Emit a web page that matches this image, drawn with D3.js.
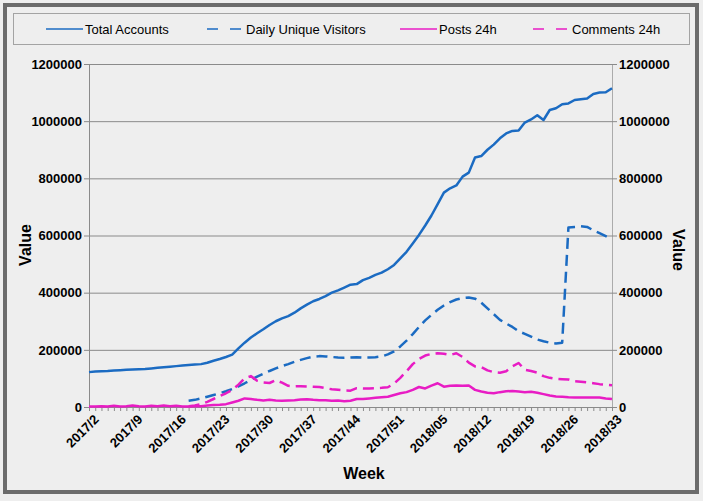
<!DOCTYPE html>
<html>
    <head>
        <meta charset="utf-8" />
        <title>Accounts, Visitors, Posts and Comments per Week</title>
        <script src="https://d3js.org/d3.v7.min.js"></script>
        <style>
            body { margin: 0; background: #eeeeee; }
            svg { display: block; font-family: "Liberation Sans", Arial, sans-serif; }
        </style>
    </head>

    <body>
        <svg width="703" height="501" id="chart"></svg>

        <script>

            // week labels on the x axis (one per data point)
            var weeks = [
                "2017/2","2017/3","2017/4","2017/5","2017/6","2017/7","2017/8","2017/9","2017/10","2017/11",
                "2017/12","2017/13","2017/14","2017/15","2017/16","2017/17","2017/18","2017/19","2017/20","2017/21",
                "2017/22","2017/23","2017/24","2017/25","2017/26","2017/27","2017/28","2017/29","2017/30","2017/31",
                "2017/32","2017/33","2017/34","2017/35","2017/36","2017/37","2017/38","2017/39","2017/40","2017/41",
                "2017/42","2017/43","2017/44","2017/45","2017/46","2017/47","2017/48","2017/49","2017/50","2017/51",
                "2017/52","2018/00","2018/01","2018/02","2018/03","2018/04","2018/05","2018/06","2018/07","2018/08",
                "2018/09","2018/10","2018/11","2018/12","2018/13","2018/14","2018/15","2018/16","2018/17","2018/18",
                "2018/19","2018/20","2018/21","2018/22","2018/23","2018/24","2018/25","2018/26","2018/27","2018/28",
                "2018/29","2018/30","2018/31","2018/32","2018/33"
            ];

            // only these weeks get a printed label
            var xTickLabels = ["2017/2","2017/9","2017/16","2017/23","2017/30","2017/37","2017/44",
                "2017/51","2018/05","2018/12","2018/19","2018/26","2018/33"];

            var yTicks = [0, 200000, 400000, 600000, 800000, 1000000, 1200000];

            var totalAccounts = [
                122000,124000,125000,126000,127500,129000,130000,131000,132000,133000,
                135000,137000,139000,141000,143000,145000,147000,149000,150000,155000,
                162000,168000,175000,183000,205000,225000,243000,258000,272000,287000,
                300000,310000,318000,330000,345000,358000,370000,378000,388000,400000,
                408000,418000,428000,430000,444000,452000,462000,470000,482000,497000,
                520000,543000,572000,602000,635000,670000,710000,750000,765000,775000,
                806000,820000,873000,878000,900000,918000,940000,957000,966000,967000,
                995000,1006000,1021000,1004000,1039000,1045000,1059000,1062000,1074000,1077000,
                1079000,1095000,1100000,1101000,1115000
            ];

            var dailyUniqueVisitors = [
                null,null,null,null,null,null,null,null,null,null,
                null,null,null,null,null,null,22000,25000,30000,36000,
                42000,48000,55000,63000,72000,83000,95000,106000,116000,126000,
                135000,143000,150000,158000,165000,171000,176000,178000,177000,175000,
                173000,172000,173000,174000,173000,173000,174000,177000,184000,195000,
                212000,232000,255000,280000,303000,322000,340000,355000,367000,376000,
                381000,383000,379000,365000,345000,325000,305000,292000,280000,265000,
                256000,246000,236000,230000,225000,222000,225000,628000,630000,632000,
                630000,618000,608000,598000,588000
            ];

            var posts24h = [
                2000,2000,3000,2000,4000,2000,3000,5000,3000,2000,
                4000,3000,5000,3000,4000,2000,2000,3000,3000,5000,
                7000,8000,10000,16000,22000,30000,28000,25000,23000,25000,
                23000,22000,23000,24000,26000,27000,25000,24000,24000,22000,
                23000,20000,22000,28000,28000,30000,32000,34000,36000,42000,
                48000,52000,60000,70000,65000,75000,83000,71000,74000,75000,
                74000,75000,60000,54000,50000,48000,52000,55000,56000,54000,
                52000,53000,50000,45000,40000,37000,36000,34000,33000,33000,
                33000,33000,33000,30000,28000
            ];

            var comments24h = [
                null,null,null,null,null,null,null,null,null,null,
                null,null,null,null,null,null,3000,5000,10000,18000,
                28000,38000,48000,60000,78000,100000,108000,92000,86000,84000,
                94000,85000,74000,72000,73000,72000,71000,70000,66000,62000,
                60000,58000,57000,66000,65000,65000,66000,67000,69000,82000,
                102000,125000,150000,168000,180000,186000,188000,186000,182000,188000,
                175000,155000,142000,140000,128000,122000,120000,125000,142000,154000,
                130000,126000,120000,108000,102000,98000,97000,96000,90000,88000,
                86000,83000,80000,78000,76000
            ];

            var blue = "#1b6bc2";
            var pink = "#e81cc4";

            var series = [
                { name: "Total Accounts", values: totalAccounts, color: blue, dash: null },
                { name: "Daily Unique Visitors", values: dailyUniqueVisitors, color: blue, dash: "11,6" },
                { name: "Posts 24h", values: posts24h, color: pink, dash: null },
                { name: "Comments 24h", values: comments24h, color: pink, dash: "11,6" }
            ];

            var svg = d3.select("#chart");

            // plot area edges
            var plotLeft = 89, plotRight = 612, plotTop = 64, plotBottom = 407;

            // outer frame
            svg.append("rect")
                .attr("x", 5).attr("y", 5)
                .attr("width", 692).attr("height", 487)
                .attr("fill", "#eeeeee")
                .attr("stroke", "#6b6b6b")
                .attr("stroke-width", 4);

            var x = d3.scalePoint().domain(weeks).range([plotLeft, plotRight]);
            var y = d3.scaleLinear().domain([0, 1200000]).range([plotBottom, plotTop]);

            // gridlines
            svg.append("g").selectAll("line")
                .data(yTicks.slice(1))
                .enter().append("line")
                .attr("x1", plotLeft).attr("x2", plotRight)
                .attr("y1", function(d) { return y(d) + 0.5; })
                .attr("y2", function(d) { return y(d) + 0.5; })
                .attr("stroke", "#8a8a8a")
                .attr("stroke-width", 1);

            // axes
            var leftAxis = svg.append("g")
                .attr("transform", "translate(" + plotLeft + ",0)")
                .call(d3.axisLeft(y).tickValues(yTicks).tickSize(5).tickSizeOuter(0).tickPadding(2).tickFormat(d3.format("d")));

            var rightAxis = svg.append("g")
                .attr("transform", "translate(" + plotRight + ",0)")
                .call(d3.axisRight(y).tickValues(yTicks).tickSize(5).tickSizeOuter(0).tickPadding(2).tickFormat(d3.format("d")));

            [leftAxis, rightAxis].forEach(function(ax) {
                ax.selectAll("path").attr("stroke", "#8a8a8a");
                ax.selectAll("line").attr("stroke", "#8a8a8a");
                ax.selectAll("text")
                    .attr("fill", "#000")
                    .style("font-size", "13px")
                    .style("font-weight", "bold");
            });
            rightAxis.select("path").attr("stroke", "#ababab");

            var xAxis = svg.append("g")
                .attr("transform", "translate(0," + plotBottom + ")")
                .call(d3.axisBottom(x).tickSize(4).tickSizeOuter(0).tickFormat(function(d) {
                    return xTickLabels.indexOf(d) >= 0 ? d : "";
                }));

            xAxis.selectAll("path").attr("stroke", "#8a8a8a");
            xAxis.selectAll("line").attr("stroke", "#8a8a8a");
            xAxis.selectAll("text")
                .attr("fill", "#000")
                .style("font-size", "13px")
                .style("font-weight", "bold")
                .attr("text-anchor", "end")
                .attr("x", 0).attr("y", 0).attr("dy", "0.35em")
                .attr("transform", "translate(7,10) rotate(-45)");

            // the lines
            var line = d3.line()
                .defined(function(d) { return d != null; })
                .x(function(d, i) { return x(weeks[i]); })
                .y(function(d) { return y(d); });

            svg.append("g").selectAll("path")
                .data(series)
                .enter().append("path")
                .attr("d", function(s) { return line(s.values); })
                .attr("fill", "none")
                .attr("stroke", function(s) { return s.color; })
                .attr("stroke-width", 2.5)
                .attr("stroke-dasharray", function(s) { return s.dash; })
                .attr("stroke-linejoin", "round");

            // axis titles
            svg.append("text")
                .attr("x", 364).attr("y", 479)
                .attr("text-anchor", "middle")
                .style("font-size", "16px").style("font-weight", "bold")
                .text("Week");

            svg.append("text")
                .attr("transform", "translate(31,245) rotate(-90)")
                .attr("text-anchor", "middle")
                .style("font-size", "16px").style("font-weight", "bold")
                .text("Value");

            svg.append("text")
                .attr("transform", "translate(673,250) rotate(90)")
                .attr("text-anchor", "middle")
                .style("font-size", "16px").style("font-weight", "bold")
                .text("Value");

            // legend
            svg.append("rect")
                .attr("x", 13.5).attr("y", 13.5)
                .attr("width", 676).attr("height", 31)
                .attr("fill", "none")
                .attr("stroke", "#a3a3a3");

            var legendX = [46, 207, 400, 533];

            var items = svg.append("g").selectAll("g")
                .data(series)
                .enter().append("g")
                .attr("transform", function(s, i) { return "translate(" + legendX[i] + ",29)"; });

            items.append("line")
                .attr("x1", 0).attr("x2", 37)
                .attr("stroke", function(s) { return s.color; })
                .attr("stroke-width", 1.5)
                .attr("stroke-dasharray", function(s) { return s.dash ? "11,12" : null; });

            items.append("text")
                .attr("x", 39).attr("dy", "0.35em")
                .style("font-size", "13px")
                .text(function(s) { return s.name; });

        </script>
    </body>
</html>
